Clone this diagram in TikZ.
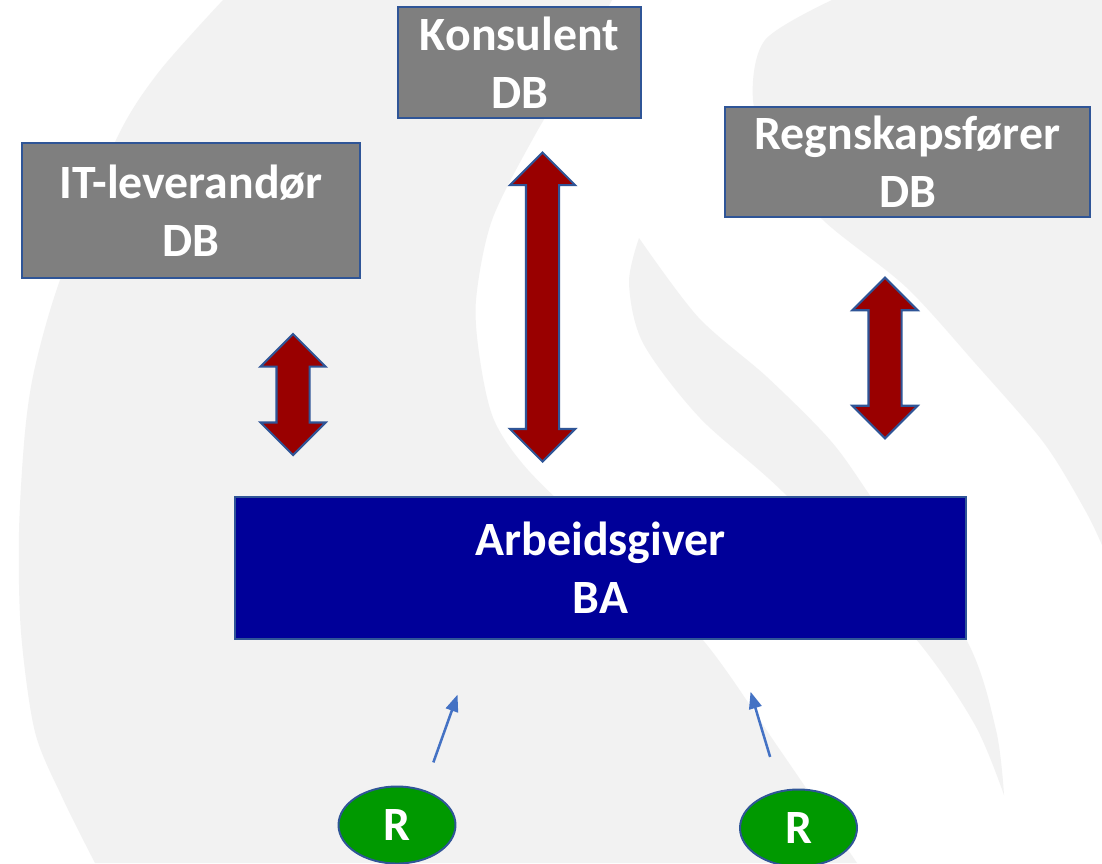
\documentclass[tikz,border=0pt]{standalone}
\usepackage{fontspec}
\setmainfont{Carlito}
\usetikzlibrary{positioning,arrows.meta,calc,shapes.geometric,shapes.arrows}
\definecolor{bggray}{RGB}{242,242,242}
\definecolor{boxgray}{RGB}{127,127,127}
\definecolor{boxline}{RGB}{47,85,151}
\definecolor{babg}{RGB}{0,0,153}
\definecolor{arrowred}{RGB}{153,0,0}
\definecolor{rgreen}{RGB}{0,153,0}
\definecolor{connblue}{RGB}{68,114,196}
\newlength{\pxu}
\setlength{\pxu}{0.025cm}
\newcommand{\lblfont}{\fontsize{34}{41}\selectfont\bfseries}
\tikzset{
  dbbox/.style={draw=boxline,line width=1.4pt,fill=boxgray,text=white,font=\lblfont,align=center,inner sep=0pt},
  babox/.style={dbbox,fill=babg},
  dblarrow/.style={double arrow,rotate=90,draw=boxline,line width=1.5pt,fill=arrowred,minimum width=63\pxu,double arrow head extend=16\pxu,inner sep=15.5\pxu},
  rnode/.style={ellipse,draw=boxline,line width=1.4pt,fill=rgreen,text=white,font=\lblfont,minimum width=117\pxu,minimum height=77\pxu,inner sep=0pt},
  conn/.style={-{Triangle[length=12pt,width=9pt]},line width=1.8pt,connblue},
}
\begin{document}
\begin{tikzpicture}[x=0.025cm,y=-0.025cm]
  \useasboundingbox (0,0) rectangle (1102,863);
  % background swooshes
  \fill[white] (0,0) rectangle (1102,863);
  \fill[bggray] plot[smooth] coordinates {(223,0) (158,73) (116,140) (60,280) (35,367) (25,432) (19,532) (21,632) (35,732) (63,799) (95,863)}
    -- (857,863) -- plot[smooth] coordinates {(857,863) (780,750) (702,639) (605,545) (528,470) (494,420) (480,360) (476,300) (492,220) (535,135) (580,60) (612,0)} -- cycle;
  \fill[bggray] plot[smooth] coordinates {(639,238) (698,317) (767,377) (830,440) (871,497) (966,639) (996,730) (1004,795)}
    -- plot[smooth] coordinates {(1004,795) (975,725) (916,639) (788,497) (700,418) (643,343) (629,283) (639,238)} -- cycle;
  \fill[bggray] (832,0) -- (1102,0) -- (1102,545)
    -- plot[smooth] coordinates {(1102,545) (1085,510) (1044,443) (975,363) (906,287) (823,220) (775,160) (753,100) (765,40) (832,0)} -- cycle;
  % boxes
  \node[dbbox,minimum width=338\pxu,minimum height=135\pxu] (itdb) at (191,210.5) {IT-leverandør\\DB};
  \node[dbbox,minimum width=243\pxu,minimum height=111\pxu] (kondb) at (519.5,62.5) {Konsulent\\DB};
  \node[dbbox,minimum width=365\pxu,minimum height=110\pxu] (regndb) at (907.5,162) {Regnskapsfører\\DB};
  \node[babox,minimum width=731\pxu,minimum height=142\pxu] (ba) at (600.5,568) {Arbeidsgiver\\BA};
  % block arrows
  \node[dblarrow,minimum height=121\pxu] (itarr) at (293,394.5) {};
  \node[dblarrow,minimum height=309\pxu] (konarr) at (542.5,307) {};
  \node[dblarrow,minimum height=160.6\pxu] (regnarr) at (885,358) {};
  % R nodes
  \node[rnode] (rleft) at (397,825) {R};
  \node[rnode] (rright) at (798.5,828) {R};
  \coordinate (baL) at ($(ba.south west)+(243,0)$);
  \coordinate (baR) at ($(ba.south west)+(501,0)$);
  \draw[conn,shorten <=29\pxu,shorten >=58\pxu] (rleft.53) -- (baL);
  \draw[conn,shorten <=35\pxu,shorten >=54\pxu] (rright.116) -- (baR);
\end{tikzpicture}
\end{document}
